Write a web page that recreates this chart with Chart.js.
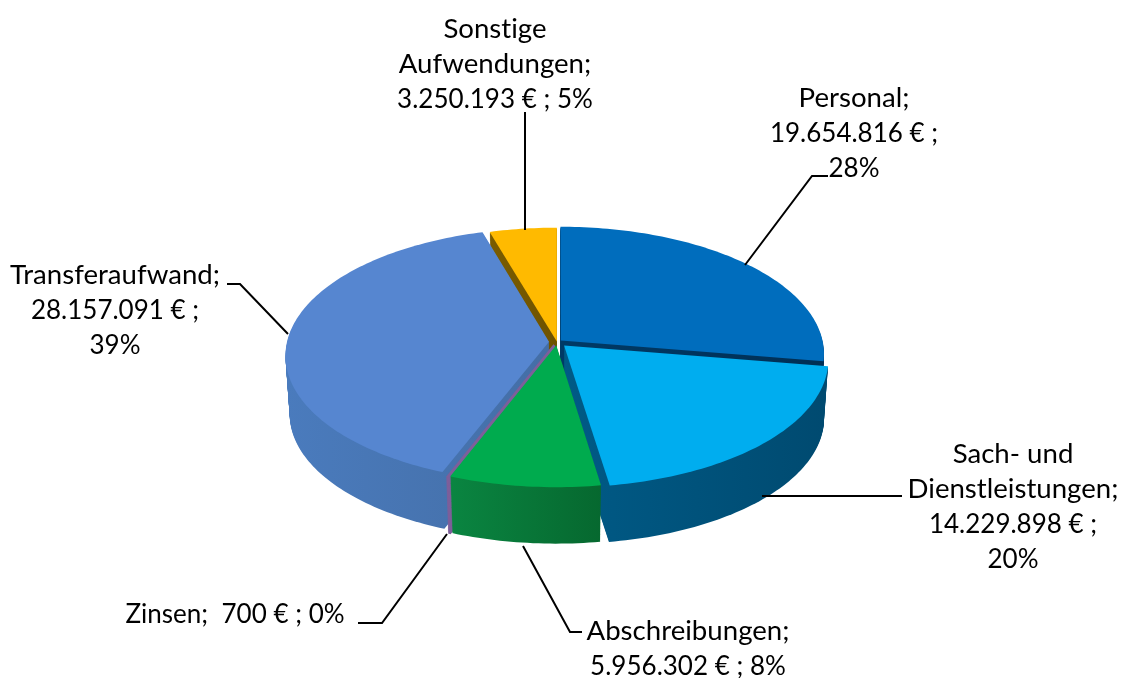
<!DOCTYPE html>
<html lang="de">
<head>
<meta charset="utf-8">
<title>Aufwendungen</title>
<script src="https://cdn.jsdelivr.net/npm/chart.js@4"></script>
<style>
  html, body { margin: 0; padding: 0; background: #fff; }
  #wrap { width: 1122px; height: 678px; }
</style>
</head>
<body>
<div id="wrap"><canvas id="pieChart"></canvas></div>
<script>
// Values
const categories = ['Personal', 'Sach- und Dienstleistungen', 'Abschreibungen', 'Zinsen', 'Transferaufwand', 'Sonstige Aufwendungen'];
const amounts = [19654816, 14229898, 5956302, 700, 28157091, 3250193];
const percents = ['28%', '20%', '8%', '0%', '39%', '5%'];
const amountTexts = ['19.654.816 €', '14.229.898 €', '5.956.302 €', '700 €', '28.157.091 €', '3.250.193 €'];

// Styling per slice
const topColors = ['#006dbd', '#00adef', '#00ab4e', '#7d5f9a', '#5686d0', '#ffba00'];
const wallLeft = ['#003a66', '#005a86', '#0a8541', '#7d5f9a', '#4a7bbd', '#7a5c00'];
const wallRight = ['#002f55', '#004a70', '#06682f', '#7d5f9a', '#446ea6', '#6e5200'];
const explode = [5, 10, 7, 7, 8, 1];
const edgeWidth = [0, 0, 0, 2.5, 0, 0];

// Label layout: centre x, first line y, then the lines of text
const labelLayout = [
    { x: 854, y: 98, lines: ['Personal;', amountTexts[0] + ' ;', percents[0]] },
    { x: 1013, y: 454, lines: ['Sach- und', 'Dienstleistungen;', amountTexts[1] + ' ;', percents[1]] },
    { x: 688, y: 631, lines: ['Abschreibungen;', amountTexts[2] + ' ; ' + percents[2]] },
    { x: 235, y: 615, lines: ['Zinsen;  ' + amountTexts[3] + ' ; ' + percents[3]] },
    { x: 115, y: 275, lines: ['Transferaufwand;', amountTexts[4] + ' ;', percents[4]] },
    { x: 495, y: 29, lines: ['Sonstige', 'Aufwendungen;', amountTexts[5] + ' ; ' + percents[5]] }
];
const leaderLines = [
    [[745, 265], [812, 176], [828, 176]],
    [[762, 496], [902, 496]],
    [[523, 546], [570, 632], [582, 632]],
    [[447, 534], [382, 623], [358, 623]],
    [[288, 334], [240, 284], [227, 284]],
    [[525, 112], [525, 230]]
];

const lineHeight = 35.3;
const tilt = 0.481;        // vertical squash of the disc
const perspective = 0.106; // front of the disc is nearer than the back
const depth = 59;
const taper = 0.016;

// Map a point on the flat pie to the screen
function project(cx, cy, radius, mx, my) {
    const f = 1 / (1 - perspective * my / radius);
    return [cx + mx * f, cy + my * tilt * f];
}

function slicePoints(arc, scale) {
    const p = arc.getProps(['x', 'y', 'startAngle', 'endAngle', 'outerRadius'], true);
    const mid = (p.startAngle + p.endAngle) / 2;
    const off = arc.options.offset || 0;
    const ox = Math.cos(mid) * off;
    const oy = Math.sin(mid) * off;
    const r = p.outerRadius * scale;
    const pts = [project(p.x, p.y, p.outerRadius, ox, oy)];
    const steps = Math.max(2, Math.ceil((p.endAngle - p.startAngle) / 0.02));
    for (let i = 0; i <= steps; i++) {
        const a = p.startAngle + (p.endAngle - p.startAngle) * i / steps;
        pts.push(project(p.x, p.y, p.outerRadius, ox + Math.cos(a) * r, oy + Math.sin(a) * r));
    }
    return pts;
}

function tracePath(ctx, pts, dy) {
    ctx.beginPath();
    pts.forEach(function(pt, i) {
        if (i === 0) ctx.moveTo(pt[0], pt[1] + dy);
        else ctx.lineTo(pt[0], pt[1] + dy);
    });
    ctx.closePath();
}

const pie3d = {
    id: 'pie3d',
    // The library has worked out the arcs, this only draws them tilted
    beforeDatasetsDraw(chart) {
        const ctx = chart.ctx;
        const arcs = chart.getDatasetMeta(0).data;
        // back to front
        const order = arcs.map(function(arc, i) { return i; }).sort(function(a, b) {
            const midA = (arcs[a].startAngle + arcs[a].endAngle) / 2;
            const midB = (arcs[b].startAngle + arcs[b].endAngle) / 2;
            return Math.sin(midA) - Math.sin(midB);
        });
        ctx.save();
        order.forEach(function(i) {
            const top = slicePoints(arcs[i], 1);
            const xs = top.map(function(pt) { return pt[0]; });
            const grad = ctx.createLinearGradient(Math.min.apply(null, xs), 0, Math.max.apply(null, xs) + 1, 0);
            grad.addColorStop(0, wallLeft[i]);
            grad.addColorStop(1, wallRight[i]);
            ctx.fillStyle = grad;
            ctx.strokeStyle = wallLeft[i];
            ctx.lineWidth = edgeWidth[i];
            for (let d = depth; d >= 1; d--) {
                tracePath(ctx, slicePoints(arcs[i], 1 - taper * d / depth), d);
                ctx.fill();
                if (edgeWidth[i]) ctx.stroke();
            }
            tracePath(ctx, top, 0);
            ctx.fillStyle = topColors[i];
            ctx.strokeStyle = topColors[i];
            ctx.fill();
            if (edgeWidth[i]) ctx.stroke();
        });
        ctx.restore();
        return false;
    },
    afterDraw(chart) {
        const ctx = chart.ctx;
        ctx.save();
        ctx.strokeStyle = '#000';
        ctx.lineWidth = 2;
        leaderLines.forEach(function(line) {
            ctx.beginPath();
            line.forEach(function(pt, i) {
                if (i === 0) ctx.moveTo(pt[0], pt[1]);
                else ctx.lineTo(pt[0], pt[1]);
            });
            ctx.stroke();
        });
        ctx.fillStyle = '#000';
        ctx.textAlign = 'center';
        ctx.textBaseline = 'middle';
        ctx.letterSpacing = '0.01px'; // no ti ligature
        labelLayout.forEach(function(label) {
            label.lines.forEach(function(text, i) {
                // digits of Lato run wider than the original font, words narrower
                ctx.font = /^[0-9]|^Zinsen/.test(text) ? '26px Lato' : '27.6px Lato';
                ctx.fillText(text, label.x, label.y + i * lineHeight);
            });
        });
        ctx.restore();
    }
};

document.addEventListener("DOMContentLoaded", function() {
    const pieCtx = document.getElementById('pieChart').getContext('2d');
    new Chart(pieCtx, {
        type: 'pie',
        data: {
            labels: categories,
            datasets: [{
                data: amounts,
                backgroundColor: topColors,
                borderWidth: 0,
                offset: explode
            }]
        },
        options: {
            responsive: true,
            maintainAspectRatio: false,
            animation: false,
            radius: 262,
            layout: { padding: { right: 8, top: 6 } },
            plugins: {
                legend: { display: false },
                tooltip: { enabled: false }
            }
        },
        plugins: [pie3d]
    });
});
</script>
</body>
</html>
